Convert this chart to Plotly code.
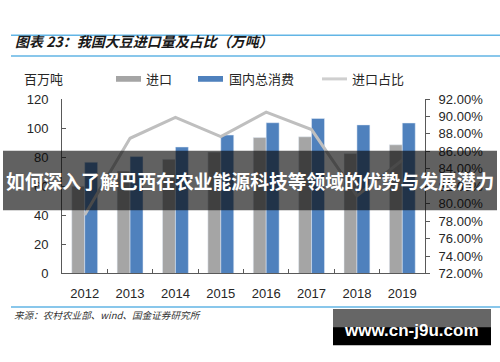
import plotly.graph_objects as go

years = ["2012", "2013", "2014", "2015", "2016", "2017", "2018", "2019"]
imports = [60.0, 70.5, 78.5, 83.5, 93.5, 94.0, 82.5, 88.5]
consumption = [76.5, 80.4, 87.0, 95.2, 103.7, 106.6, 102.2, 103.5]
share = [78.7, 87.5, 89.9, 87.7, 90.5, 88.5, 80.9, 85.0]

W, H = 500, 362
def X(px): return px / W
def Y(py): return 1 - py / H

CJK = "Noto Sans CJK SC"
LAT = "Liberation Sans, Arial"
GRAY = "#A5A5A5"
BLUE = "#4F81BD"
LINE = "#BFBFBF"
RULE = "#62B5E5"

fig = go.Figure()
fig.add_trace(go.Bar(x=years, y=imports, name="进口", marker_color=GRAY, yaxis="y"))
fig.add_trace(go.Bar(x=years, y=consumption, name="国内总消费", marker_color=BLUE, yaxis="y"))
fig.add_trace(go.Scatter(x=years, y=share, name="进口占比", mode="lines",
                         line=dict(color=LINE, width=3), yaxis="y2"))

axis_col = "#595959"
tick_font = dict(family=LAT, size=13, color="#262626")
fig.update_layout(
    width=W, height=H, margin=dict(l=0, r=0, t=0, b=0),
    paper_bgcolor="white", plot_bgcolor="white",
    showlegend=False, barmode="group", bargap=0.43, bargroupgap=0,
    xaxis=dict(domain=[X(62), X(425)], showgrid=False, showline=True, linecolor=axis_col,
               ticks="inside", tickson="boundaries", ticklen=4, tickcolor=axis_col,
               tickfont=tick_font, ticklabelstandoff=8),
    yaxis=dict(domain=[Y(278), Y(96)], range=[0, 120], dtick=20, showgrid=False,
               showline=True, linecolor=axis_col, ticks="inside", ticklen=4,
               tickcolor=axis_col, tickfont=tick_font, zeroline=False,
               ticklabelstandoff=10),
    yaxis2=dict(overlaying="y", side="right", anchor="x", range=[72, 92], dtick=2,
                tickformat=".2f", ticksuffix="%", showgrid=False, showline=True,
                linecolor=axis_col, ticks="outside", ticklen=4, tickcolor=axis_col,
                tickfont=tick_font, zeroline=False, ticklabelstandoff=6),
)

shapes = []
annos = []
# header / footer rules
for py in (29.5, 51, 313):
    shapes.append(dict(type="line", xref="paper", yref="paper", x0=X(11), x1=X(500),
                       y0=Y(py), y1=Y(py), line=dict(color=RULE, width=1.5)))
annos.append(dict(text="<b><i>图表 23：我国大豆进口量及占比（万吨）</i></b>", xref="paper", yref="paper",
                  x=X(13), y=Y(35), xanchor="left", yanchor="middle", showarrow=False,
                  font=dict(family=CJK, size=14, color="#1a1a1a")))
annos.append(dict(text="<i>来源：农村农业部、wind、国金证券研究所</i>", xref="paper", yref="paper",
                  x=X(12), y=Y(321), xanchor="left", yanchor="middle", showarrow=False,
                  font=dict(family=CJK, size=9.6, color="#333333")))
# unit
annos.append(dict(text="百万吨", xref="paper", yref="paper", x=X(22), y=Y(75),
                  xanchor="left", yanchor="middle", showarrow=False,
                  font=dict(family=CJK, size=13, color="#262626")))
# legend
leg = [("进口", GRAY, 116, 144, "box"), ("国内总消费", BLUE, 198, 227, "box"),
       ("进口占比", "#CFCFCF", 322, 350, "line")]
for name, col, sx, tx, kind in leg:
    if kind == "box":
        shapes.append(dict(type="rect", xref="paper", yref="paper", x0=X(sx), x1=X(sx + 25),
                           y0=Y(78), y1=Y(72), fillcolor=col, line=dict(width=0)))
    else:
        shapes.append(dict(type="line", xref="paper", yref="paper", x0=X(sx), x1=X(sx + 25),
                           y0=Y(75), y1=Y(75), line=dict(color=col, width=3)))
    annos.append(dict(text=name, xref="paper", yref="paper", x=X(tx), y=Y(75),
                      xanchor="left", yanchor="middle", showarrow=False,
                      font=dict(family=CJK, size=13, color="#262626")))
# overlay banner
shapes.append(dict(type="rect", xref="paper", yref="paper", x0=X(3), x1=X(497),
                   y0=Y(212), y1=Y(150), fillcolor="rgba(8,8,8,0.64)", line=dict(width=0),
                   layer="above"))
annos.append(dict(text="<b>如何深入了解巴西在农业能源科技等领域的优势与发展潜力</b>", xref="paper", yref="paper",
                  x=X(250), y=Y(181), xanchor="center", yanchor="middle", showarrow=False,
                  font=dict(family=CJK, size=18.8, color="white")))
# watermark
shapes.append(dict(type="rect", xref="paper", yref="paper", x0=X(333), x1=X(491),
                   y0=Y(353), y1=Y(315), fillcolor="black", line=dict(width=0)))
shapes.append(dict(type="rect", xref="paper", yref="paper", x0=X(333), x1=X(491),
                   y0=Y(334), y1=Y(315), fillcolor="#666666", line=dict(width=0)))
annos.append(dict(text="<b>www.cn-j9u.com</b>", xref="paper", yref="paper",
                  x=X(411), y=Y(337), xanchor="center", yanchor="middle", showarrow=False,
                  font=dict(family=LAT, size=17, color="white")))

fig.update_layout(shapes=shapes, annotations=annos)
fig.write_html("out.html", config={"displayModeBar": False},
               post_script="document.body.style.margin='0';document.body.style.overflow='hidden';")
